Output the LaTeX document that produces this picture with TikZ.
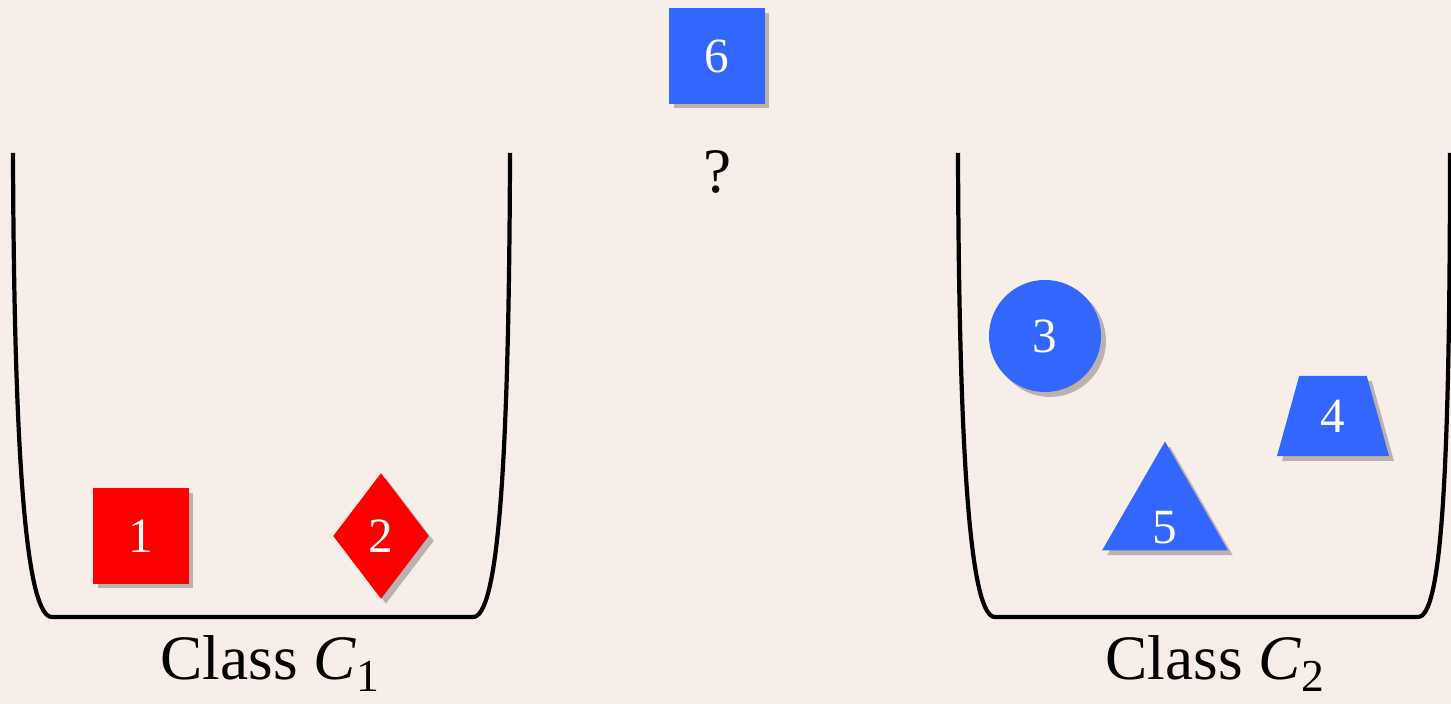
\documentclass[tikz,border=0pt]{standalone}
\usepackage{fontspec}
\setmainfont{Liberation Serif}
\usetikzlibrary{shapes.geometric,shadows}
\definecolor{parchment}{RGB}{248,238,233}
\definecolor{itemred}{RGB}{255,0,0}
\definecolor{itemblue}{RGB}{51,102,255}
\newcommand{\clsub}[1]{\raisebox{-0.18em}{\fontsize{13}{13}\selectfont #1}}

\begin{document}
\begin{tikzpicture}[x=0.01cm, y=-0.01cm,
    item/.style={inner sep=0pt, text=white, font=\fontsize{14}{14}\selectfont,
      drop shadow={shadow xshift=1.4pt, shadow yshift=-1.4pt, fill=black, opacity=0.25}},
    cls/.style={font=\fontsize{18}{20}\selectfont, anchor=base, inner sep=0pt},
    bucket/.style={line width=1.2pt}]
  % zemin: acik parsomen
  \fill[parchment] (0,0) rectangle (1451,704);
  \useasboundingbox (0,0) rectangle (1451,704);

  % Kova 1: C_1 sinifi
  \draw[bucket] (13,153) .. controls (14,480) and (28,617) .. (52,617)
    -- (473,617) .. controls (497,617) and (509,480) .. (510,153);
  \node[item, fill=itemred, minimum size=0.95cm] (o1) at (141,536) {1};
  \node[item, fill=itemred, diamond, minimum width=0.96cm, minimum height=1.26cm]
    (o2) at (381,536) {2};
  \node[cls] (lab1) at (270,680) {Class \textit{C}\clsub{1}};

  % Kova 2: C_2 sinifi
  \draw[bucket] (958,153) .. controls (959,480) and (972,617) .. (995,617)
    -- (1418,617) .. controls (1441,617) and (1450,480) .. (1450,153);
  \node[item, fill=itemblue, circle, minimum size=1.12cm] (o3) at (1045,336) {3};
  \node[item, fill=itemblue, trapezium, trapezium stretches=true,
    trapezium left angle=76, trapezium right angle=76,
    minimum width=1.12cm, minimum height=0.8cm] (o4) at (1333,416) {4};
  \node[item, fill=itemblue, regular polygon, regular polygon sides=3,
    minimum size=1.45cm] (o5) at (1165,514) {};
  \node[text=white, font=\fontsize{14}{14}\selectfont] (n5) at (1165,528) {5};
  \node[cls] (lab2) at (1215,680) {Class \textit{C}\clsub{2}};

  % siniflandirilacak yeni nesne
  \node[item, fill=itemblue, minimum size=0.95cm] (o6) at (717,56) {6};
  \node[cls] (ask) at (718,193) {?};
\end{tikzpicture}
\end{document}
